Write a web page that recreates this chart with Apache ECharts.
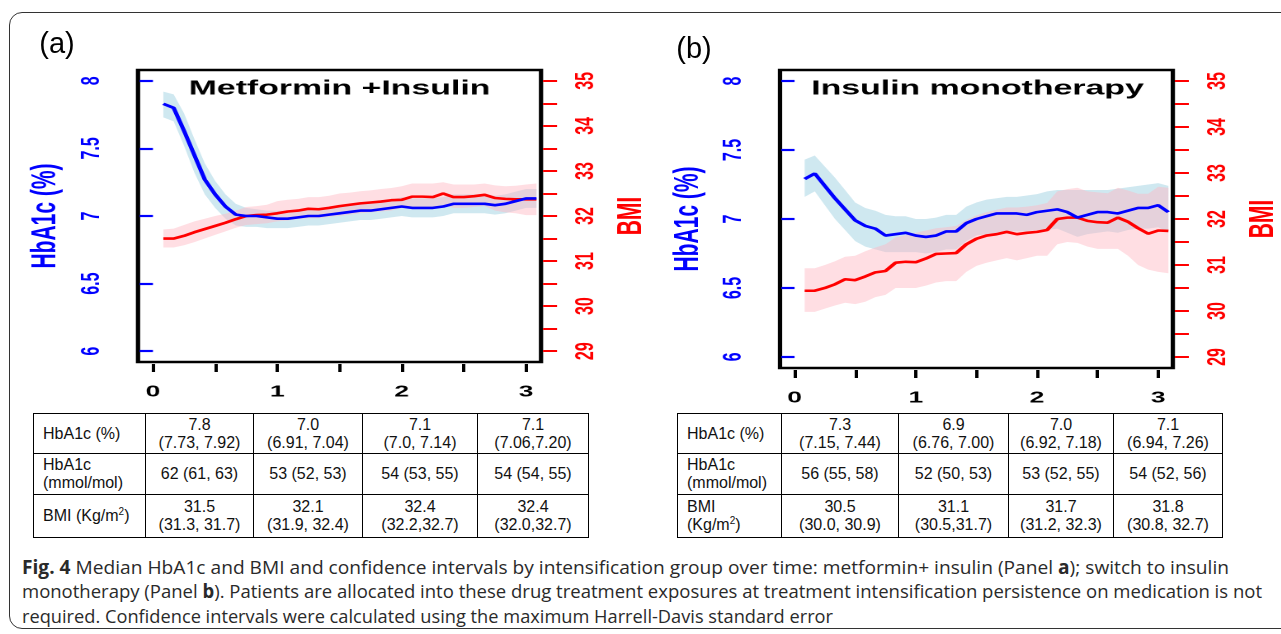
<!DOCTYPE html>
<html>
<head>
<meta charset="utf-8">
<script src="https://cdn.jsdelivr.net/npm/echarts@6/dist/echarts.min.js"></script>
<style>
  html, body { margin:0; padding:0; background:#fff; }
  body { width:1281px; height:634px; position:relative; overflow:hidden; font-family:"Liberation Sans", Arial, sans-serif; }
  #frame { position:absolute; left:9px; top:12px; width:1300px; height:617px; border:1.5px solid #333; border-radius:13px; box-sizing:border-box; }
  #chart { position:absolute; left:0; top:0; width:777px; height:412px; transform:scaleX(1.65); transform-origin:0 0; }
  .plab { position:absolute; font-size:29px; color:#000; line-height:1; transform:translate(-50%,-50%); }
  table.t { position:absolute; border-collapse:collapse; font-size:16px; color:#111; table-layout:fixed; }
  table.t td { border:1.5px solid #000; padding:0; text-align:center; line-height:18px; }
  table.t td.lab { text-align:left; padding-left:9px; }
  table.t sup { font-size:10px; line-height:0; }
  .cap { position:absolute; left:22px; font-family:"Open Sans", "Noto Sans", sans-serif; font-size:19px; color:#2a2a2a; white-space:nowrap; transform-origin:0 50%; line-height:1; }
</style>
</head>
<body>
<div id="frame"></div>
<div id="chart"></div>
<div class="plab" style="left:57px; top:43px;">(a)</div>
<div class="plab" style="left:694px; top:48px;">(b)</div>
<div id="tables"></div>
<div id="caption"></div>
<script>
// ---------- data ----------
const panelTitles = ['Metformin +Insulin', 'Insulin monotherapy'];
const xTicks = [0, 0.5, 1, 1.5, 2, 2.5, 3];
const xLabels = [0, 1, 2, 3];
const hbTicks = [6, 6.5, 7, 7.5, 8];
const bmiTicks = [29, 29.5, 30, 30.5, 31, 31.5, 32, 32.5, 33, 33.5, 34, 34.5, 35];
const bmiLabels = [29, 30, 31, 32, 33, 34, 35];

const months = [1,2,3,4,5,6,7,8,9,10,11,12,13,14,15,16,17,18,19,20,21,22,23,24,25,26,27,28,29,30,31,32,33,34,35,36,37];

// Panel a: Metformin + Insulin
const hbA_med = [7.83,7.80,7.63,7.45,7.27,7.16,7.07,7.01,7.00,7.00,6.99,6.98,6.98,6.99,7.00,7.00,7.01,7.02,7.03,7.04,7.04,7.05,7.06,7.07,7.06,7.06,7.06,7.07,7.09,7.09,7.09,7.09,7.08,7.09,7.11,7.13,7.13];
const hbA_lo  = [7.73,7.70,7.52,7.32,7.16,7.06,6.98,6.93,6.92,6.92,6.91,6.91,6.91,6.92,6.93,6.93,6.94,6.95,6.96,6.97,6.97,6.98,6.99,7.00,6.99,6.99,6.99,7.00,7.02,7.02,7.02,7.02,7.01,7.02,7.04,7.06,7.06];
const hbA_hi  = [7.92,7.90,7.76,7.57,7.39,7.26,7.16,7.09,7.06,7.05,7.04,7.04,7.04,7.05,7.06,7.06,7.07,7.08,7.09,7.10,7.10,7.11,7.12,7.14,7.13,7.13,7.13,7.14,7.16,7.16,7.16,7.16,7.15,7.16,7.18,7.20,7.20];
const bmiA_med = [31.50,31.50,31.56,31.64,31.71,31.78,31.85,31.93,32.00,32.02,32.03,32.06,32.10,32.12,32.16,32.15,32.18,32.22,32.25,32.28,32.30,32.32,32.35,32.36,32.43,32.43,32.42,32.50,32.42,32.42,32.44,32.47,32.40,32.38,32.37,32.37,32.37];
const bmiA_lo  = [31.30,31.30,31.35,31.42,31.50,31.58,31.66,31.74,31.80,31.82,31.84,31.88,31.90,31.93,31.95,31.95,31.98,32.00,32.03,32.06,32.08,32.10,32.12,32.18,32.20,32.20,32.20,32.25,32.18,32.18,32.20,32.22,32.12,32.08,32.06,32.02,32.02];
const bmiA_hi  = [31.70,31.72,31.80,31.88,31.94,32.00,32.05,32.12,32.20,32.22,32.25,32.33,32.36,32.38,32.42,32.42,32.45,32.50,32.52,32.55,32.57,32.60,32.62,32.66,32.72,32.72,32.72,32.75,32.70,32.70,32.70,32.72,32.68,32.66,32.67,32.70,32.72];

// Panel b: Insulin monotherapy
const hbB_med = [7.29,7.33,7.24,7.15,7.07,6.99,6.95,6.93,6.88,6.89,6.90,6.88,6.87,6.88,6.91,6.91,6.97,7.00,7.02,7.04,7.04,7.04,7.03,7.05,7.06,7.07,7.05,7.01,7.03,7.05,7.05,7.04,7.06,7.08,7.08,7.10,7.05];
const hbB_lo  = [7.16,7.20,7.10,7.00,6.92,6.84,6.80,6.78,6.76,6.76,6.76,6.76,6.75,6.76,6.78,6.78,6.84,6.88,6.89,6.90,6.91,6.91,6.91,6.92,6.92,6.93,6.90,6.87,6.89,6.90,6.91,6.90,6.92,6.93,6.93,6.94,6.90];
const hbB_hi  = [7.43,7.46,7.38,7.30,7.21,7.12,7.08,7.06,7.03,7.02,7.02,7.00,7.00,7.01,7.03,7.03,7.09,7.12,7.14,7.15,7.16,7.16,7.17,7.18,7.20,7.21,7.21,7.21,7.21,7.21,7.21,7.22,7.23,7.24,7.25,7.26,7.24];
const bmiB_med = [30.44,30.44,30.50,30.58,30.69,30.67,30.75,30.84,30.87,31.05,31.07,31.06,31.14,31.24,31.25,31.26,31.45,31.57,31.64,31.67,31.72,31.67,31.70,31.72,31.76,32.00,32.03,32.03,31.96,31.93,31.92,32.03,31.94,31.80,31.68,31.75,31.74];
const bmiB_lo  = [29.98,29.98,30.05,30.12,30.18,30.15,30.20,30.30,30.35,30.50,30.50,30.50,30.55,30.62,30.65,30.65,30.85,30.98,31.05,31.10,31.15,31.10,31.15,31.20,31.20,31.45,31.50,31.48,31.40,31.35,31.35,31.35,31.20,31.00,30.90,30.85,30.82];
const bmiB_hi  = [30.93,30.93,31.00,31.08,31.18,31.20,31.30,31.38,31.45,31.60,31.65,31.70,31.75,31.80,31.82,31.85,31.98,32.08,32.15,32.20,32.25,32.25,32.27,32.30,32.35,32.60,32.65,32.68,32.60,32.58,32.56,32.68,32.62,32.55,32.55,32.70,32.68];

// Tables
const rowLabelsA = ['HbA1c (%)', 'HbA1c<br>(mmol/mol)', 'BMI (Kg/m<sup>2</sup>)'];
const rowLabelsB = ['HbA1c (%)', 'HbA1c<br>(mmol/mol)', 'BMI<br>(Kg/m<sup>2</sup>)'];
const tabA_hb  = ['7.8<br>(7.73, 7.92)', '7.0<br>(6.91, 7.04)', '7.1<br>(7.0, 7.14)', '7.1<br>(7.06,7.20)'];
const tabA_mmol = ['62 (61, 63)', '53 (52, 53)', '54 (53, 55)', '54 (54, 55)'];
const tabA_bmi = ['31.5<br>(31.3, 31.7)', '32.1<br>(31.9, 32.4)', '32.4<br>(32.2,32.7)', '32.4<br>(32.0,32.7)'];
const tabB_hb  = ['7.3<br>(7.15, 7.44)', '6.9<br>(6.76, 7.00)', '7.0<br>(6.92, 7.18)', '7.1<br>(6.94, 7.26)'];
const tabB_mmol = ['56 (55, 58)', '52 (50, 53)', '53 (52, 55)', '54 (52, 56)'];
const tabB_bmi = ['30.5<br>(30.0, 30.9)', '31.1<br>(30.5,31.7)', '31.7<br>(31.2, 32.3)', '31.8<br>(30.8, 32.7)'];

const captionLines = [
  '<b>Fig. 4</b> Median HbA1c and BMI and confidence intervals by intensification group over time: metformin+ insulin (Panel <b>a</b>); switch to insulin',
  'monotherapy (Panel <b>b</b>). Patients are allocated into these drug treatment exposures at treatment intensification persistence on medication is not',
  'required. Confidence intervals were calculated using the maximum Harrell-Davis standard error'
];

// ---------- layout ----------
const S = 1.65; // horizontal stretch of the plotted figure
const BLUE = '#0000ff', RED = '#ff0000';
const grids = [
  { left: 138 / S, width: (541 - 138) / S, top: 70, height: 292 },
  { left: 780 / S, width: (1175 - 780) / S, top: 70, height: 298 }
];

const years = months.map(m => m / 12);

function band(xs, lo, hi, idx, yIdx, color) {
  return {
    type: 'custom', xAxisIndex: idx, yAxisIndex: yIdx, silent: true, z: 1,
    data: [[xs[0], hi[0]]], encode: { x: 0, y: 1 },
    renderItem: function (params, api) {
      const pts = [];
      for (let i = 0; i < xs.length; i++) pts.push(api.coord([xs[i], hi[i]]));
      for (let i = xs.length - 1; i >= 0; i--) pts.push(api.coord([xs[i], lo[i]]));
      return { type: 'polygon', shape: { points: pts }, style: { fill: color } };
    }
  };
}
function line(xs, ys, idx, yIdx, color, z) {
  return {
    type: 'line', xAxisIndex: idx, yAxisIndex: yIdx, z: z, showSymbol: false, symbol: 'none',
    data: xs.map((x, i) => [x, ys[i]]), lineStyle: { color: color, width: 2.6 }, itemStyle: { color: color }
  };
}

const font = '"Liberation Sans", Arial, sans-serif';
const xAxes = [0, 1].map(i => ({
  type: 'value', gridIndex: i, min: -0.12, max: 3.12, position: 'bottom', offset: 2,
  axisLine: { show: false }, splitLine: { show: false },
  axisTick: { show: true, length: 8, customValues: xTicks, lineStyle: { color: '#000', width: 2 } },
  axisLabel: { customValues: xLabels, margin: 20, fontSize: 16, fontWeight: 'bold', color: '#000', fontFamily: font }
}));
const yAxes = [];
[0, 1].forEach(i => {
  yAxes.push({
    type: 'value', gridIndex: i, min: 5.92, max: 8.08, position: 'left', offset: 1.2,
    axisLine: { show: false }, splitLine: { show: false },
    axisTick: { show: true, length: 8, customValues: hbTicks, lineStyle: { color: BLUE, width: 2.2 } },
    axisLabel: { customValues: hbTicks, rotate: 90, margin: 19, fontSize: 16, fontWeight: 'bold', color: BLUE, fontFamily: font },
    name: 'HbA1c (%)', nameLocation: 'middle', nameGap: 44, nameRotate: 90,
    nameTextStyle: { color: BLUE, fontWeight: 'bold', fontSize: 21, fontFamily: font }
  });
  yAxes.push({
    type: 'value', gridIndex: i, min: 28.76, max: 35.24, position: 'right', offset: 1.2,
    axisLine: { show: false }, splitLine: { show: false },
    axisTick: { show: true, length: 8.5, customValues: bmiTicks, lineStyle: { color: RED, width: 2 } },
    axisLabel: { customValues: bmiLabels, rotate: 90, margin: 18, fontSize: 16, fontWeight: 'bold', color: RED, fontFamily: font },
    name: 'BMI', nameLocation: 'middle', nameGap: 43, nameRotate: 90,
    nameTextStyle: { color: RED, fontWeight: 'bold', fontSize: 21, fontFamily: font }
  });
});

const series = [
  band(years, hbA_lo, hbA_hi, 0, 0, 'rgba(173,216,230,0.58)'),
  band(years, bmiA_lo, bmiA_hi, 0, 1, 'rgba(255,182,193,0.45)'),
  line(years, bmiA_med, 0, 1, RED, 3),
  line(years, hbA_med, 0, 0, BLUE, 4),
  band(years, hbB_lo, hbB_hi, 1, 2, 'rgba(173,216,230,0.58)'),
  band(years, bmiB_lo, bmiB_hi, 1, 3, 'rgba(255,182,193,0.45)'),
  line(years, bmiB_med, 1, 3, RED, 3),
  line(years, hbB_med, 1, 2, BLUE, 4)
];

const chart = echarts.init(document.getElementById('chart'), null, { renderer: 'canvas', devicePixelRatio: 2 });
chart.setOption({
  animation: false,
  backgroundColor: 'transparent',
  grid: grids.map(g => Object.assign({ show: true, borderColor: '#000', borderWidth: 2.6, backgroundColor: 'transparent', containLabel: false }, g)),
  xAxis: xAxes,
  yAxis: yAxes,
  graphic: grids.map((g, i) => ({
    type: 'text', x: g.left + g.width / 2, y: 89, z: 10,
    style: { text: panelTitles[i], align: 'center', verticalAlign: 'middle', fill: '#000',
      font: 'bold 20.5px "Liberation Sans", Arial, sans-serif' }
  })),
  series: series
});

// ---------- tables ----------
function buildTable(left, colW, rowH, labels, r1, r2, r3) {
  const t = document.createElement('table');
  t.className = 't';
  t.style.left = left + 'px';
  t.style.top = '413px';
  const total = colW.reduce((a, b) => a + b, 0);
  t.style.width = total + 'px';
  const cg = document.createElement('colgroup');
  colW.forEach(w => { const c = document.createElement('col'); c.style.width = w + 'px'; cg.appendChild(c); });
  t.appendChild(cg);
  [r1, r2, r3].forEach((r, ri) => {
    const tr = document.createElement('tr');
    tr.style.height = rowH[ri] + 'px';
    const th = document.createElement('td'); th.className = 'lab'; th.innerHTML = labels[ri]; tr.appendChild(th);
    r.forEach(v => { const td = document.createElement('td'); td.innerHTML = v; tr.appendChild(td); });
    t.appendChild(tr);
  });
  document.getElementById('tables').appendChild(t);
}
buildTable(33, [112, 108, 109, 115, 111], [40, 41, 43], rowLabelsA, tabA_hb, tabA_mmol, tabA_bmi);
buildTable(677, [104, 117, 110, 105, 109], [40, 41, 43], rowLabelsB, tabB_hb, tabB_mmol, tabB_bmi);

// ---------- caption ----------
const capY = [568, 592, 617];
const capW = [1207, 1240, 811];
captionLines.forEach((txt, i) => {
  const d = document.createElement('div');
  d.className = 'cap';
  d.innerHTML = txt;
  d.style.top = (capY[i] - 10) + 'px';
  document.getElementById('caption').appendChild(d);
  const w = d.getBoundingClientRect().width;
  d.style.transform = 'scaleX(' + (capW[i] / w) + ')';
});
</script>
</body>
</html>
